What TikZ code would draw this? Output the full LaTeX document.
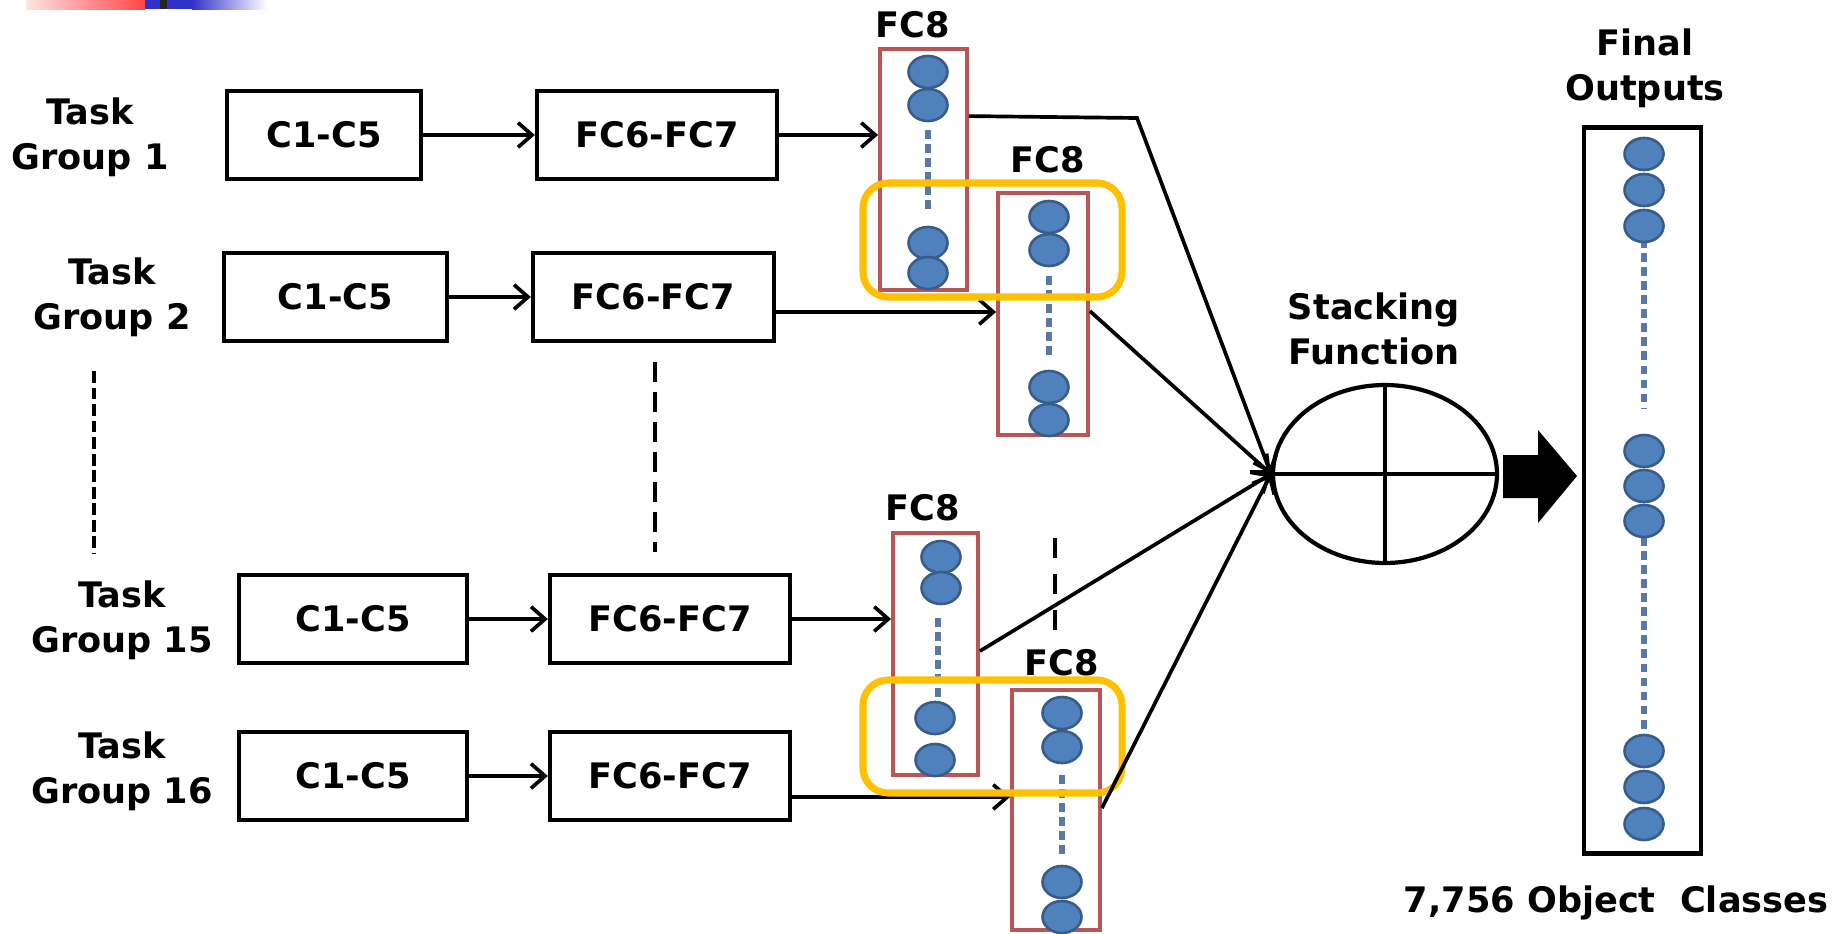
\documentclass[tikz,border=0pt]{standalone}
\usepackage{fontspec}
\setmainfont{DejaVu Sans}
\usetikzlibrary{arrows.meta,shapes.geometric,calc}
\definecolor{nblue}{RGB}{79,129,189}
\definecolor{nborder}{RGB}{56,93,138}
\definecolor{fcred}{RGB}{185,85,85}
\definecolor{hlgold}{RGB}{255,192,0}
\definecolor{barred}{RGB}{255,70,70}
\definecolor{barpink}{RGB}{255,228,228}
\definecolor{barblue}{RGB}{50,50,200}
\definecolor{dashblue}{RGB}{90,120,165}
\tikzset{
  txt/.style={font=\fontsize{20}{25.6}\selectfont\bfseries, inner sep=0pt, align=center},
  blk/.style={draw=black, line width=2.5pt, fill=white, inner sep=0pt, font=\fontsize{20}{24}\selectfont\bfseries},
  fcbox/.style={draw=fcred, line width=2.2pt, inner sep=0pt},
  outbox/.style={draw=black, line width=2.8pt, inner sep=0pt},
  conn/.style={line width=2.1pt, -{Straight Barb[length=8pt,width=14pt,line width=2.1pt]}},
  neuron/.style={fill=nblue, draw=nborder, line width=1.5pt},
  bdash/.style={draw=dashblue, line width=3pt, dash pattern=on 5pt off 3pt},
  hl/.style={draw=hlgold, line width=4pt, rounded corners=0.5cm},
  kdash/.style={draw=black, line width=2.5pt}
}
\begin{document}
\begin{tikzpicture}[x=0.02cm,y=-0.02cm]
\useasboundingbox (0,0) rectangle (1845,933);

% top decorative bar
\shade[left color=barpink, right color=barred] (26,0) rectangle (145,9);
\fill[barblue] (145,0) rectangle (192,9);
\shade[left color=barblue, right color=white] (192,0) rectangle (267,9);
\fill[black!85] (160,0) rectangle (167,9);

% task labels
\node[txt] (tg1) at (90,137) {Task\\Group 1};
\node[txt] (tg2) at (112,297) {Task\\Group 2};
\node[txt] (tg15) at (122,620) {Task\\Group 15};
\node[txt] (tg16) at (122,771) {Task\\Group 16};

% boxes
\node[blk, minimum width=3.88cm, minimum height=1.76cm] (c1) at (324,135) {C1-C5};
\node[blk, minimum width=4.80cm, minimum height=1.76cm] (f1) at (657,135) {FC6-FC7};
\node[blk, minimum width=4.46cm, minimum height=1.76cm] (c2) at (335.5,297) {C1-C5};
\node[blk, minimum width=4.82cm, minimum height=1.76cm] (f2) at (653.5,297) {FC6-FC7};
\node[blk, minimum width=4.56cm, minimum height=1.76cm] (c15) at (353,619) {C1-C5};
\node[blk, minimum width=4.80cm, minimum height=1.76cm] (f15) at (670,619) {FC6-FC7};
\node[blk, minimum width=4.56cm, minimum height=1.76cm] (c16) at (353,776) {C1-C5};
\node[blk, minimum width=4.80cm, minimum height=1.76cm] (f16) at (670,776) {FC6-FC7};

% vertical dashed ellipsis lines
\coordinate (dl1) at (94,371); \coordinate (dl2) at (94,553);
\coordinate (dm1) at (655,362); \coordinate (dm2) at (655,552);
\coordinate (dr1) at (1055,538); \coordinate (dr2) at (1055,632);
\draw[kdash, dash pattern=on 6.8pt off 2.6pt] (dl1) -- (dl2);
\draw[kdash, dash pattern=on 11.4pt off 5.7pt] (dm1) -- (dm2);
\draw[kdash, dash pattern=on 11.4pt off 9.1pt] (dr1) -- (dr2);

% FC8 columns
\node[fcbox, minimum width=1.74cm, minimum height=4.82cm] (fa) at (923.5,169.5) {};
\node[fcbox, minimum width=1.80cm, minimum height=4.84cm] (fb) at (1043,314) {};
\node[fcbox, minimum width=1.70cm, minimum height=4.84cm] (fc) at (935.5,654) {};
\node[fcbox, minimum width=1.76cm, minimum height=4.80cm] (fd) at (1056,810) {};
\node[txt] (la) at (913,25) {FC8};
\node[txt] (lb) at (1048,160) {FC8};
\node[txt] (lc) at (923,508) {FC8};
\node[txt] (ld) at (1062,663) {FC8};

\draw[bdash] (928,130) -- (928,212);
\foreach \y in {72,105,243,273} \path[neuron] (928,\y) ellipse [x radius=0.39cm, y radius=0.32cm];
\draw[bdash] (1049,276) -- (1049,360);
\foreach \y in {217,250,387,420} \path[neuron] (1049,\y) ellipse [x radius=0.39cm, y radius=0.32cm];
\draw[bdash] (938,618) -- (938,699);
\foreach \y in {557,588} \path[neuron] (941,\y) ellipse [x radius=0.39cm, y radius=0.32cm];
\foreach \y in {718,760} \path[neuron] (935,\y) ellipse [x radius=0.39cm, y radius=0.32cm];
\draw[bdash] (1062,775) -- (1062,855);
\foreach \y in {713,747,882,917} \path[neuron] (1062,\y) ellipse [x radius=0.39cm, y radius=0.32cm];

% row arrows
\draw[conn] (c1) -- (f1);
\draw[conn] (c2) -- (f2);
\draw[conn] (c15) -- (f15);
\draw[conn] (c16) -- (f16);
\coordinate (s2) at ($(f2.east)+(0,15)$);
\coordinate (s16) at ($(f16.east)+(0,21)$);
\draw[conn] (f1.east) -- (f1.east -| fa.west);
\draw[conn] (s2) -- (s2 -| fb.west);
\draw[conn] (f15.east) -- (f15.east -| fc.west);
\draw[conn] (s16) -- (s16 -| fd.west);

% highlight boxes
\draw[hl] (863,183) rectangle (1122,297);
\draw[hl] (863,680) rectangle (1122,793);

% stacking function
\node[draw=black, line width=2.4pt, ellipse, minimum width=4.48cm, minimum height=3.56cm, inner sep=0pt] (st) at (1385,474) {};
\draw[line width=2.4pt] (st.west) -- (st.east);
\draw[line width=2.4pt] (st.north) -- (st.south);
\node[txt] (stl) at (1374,329) {Stacking\\Function};

\coordinate (oa) at ($(fa.north east)+(0,69)$);
\coordinate (ob) at ($(fb.north east)+(0,120)$);
\coordinate (oc) at ($(fc.north east)+(0,120)$);
\coordinate (od) at ($(fd.north east)+(0,120)$);
\coordinate (bendA) at (1137,118);
\draw[conn] (oa) -- (bendA) -- (st.west);
\draw[conn] (ob) -- (st.west);
\draw[conn] (oc) -- (st.west);
\draw[conn] (od) -- (st.west);

% final outputs
\node[outbox, minimum width=2.34cm, minimum height=14.54cm] (fin) at (1642.5,490.5) {};
\fill[black] (1503,455) -- (1538,455) -- (1538,430) -- (1577,476) -- (1538,523) -- (1538,498) -- (1503,498) -- cycle;
\draw[bdash] (1644,239) -- (1644,408);
\draw[bdash] (1644,537) -- (1644,734);
\foreach \y in {154,190,226,451,486,521,751,787,824} \path[neuron] (1644,\y) ellipse [x radius=0.39cm, y radius=0.32cm];
\node[txt] (finl) at (1645,68) {Final\\Outputs};
\node[txt] (cls) at (1616,903) {7,756 Object\ \ Classes};
\end{tikzpicture}
\end{document}
